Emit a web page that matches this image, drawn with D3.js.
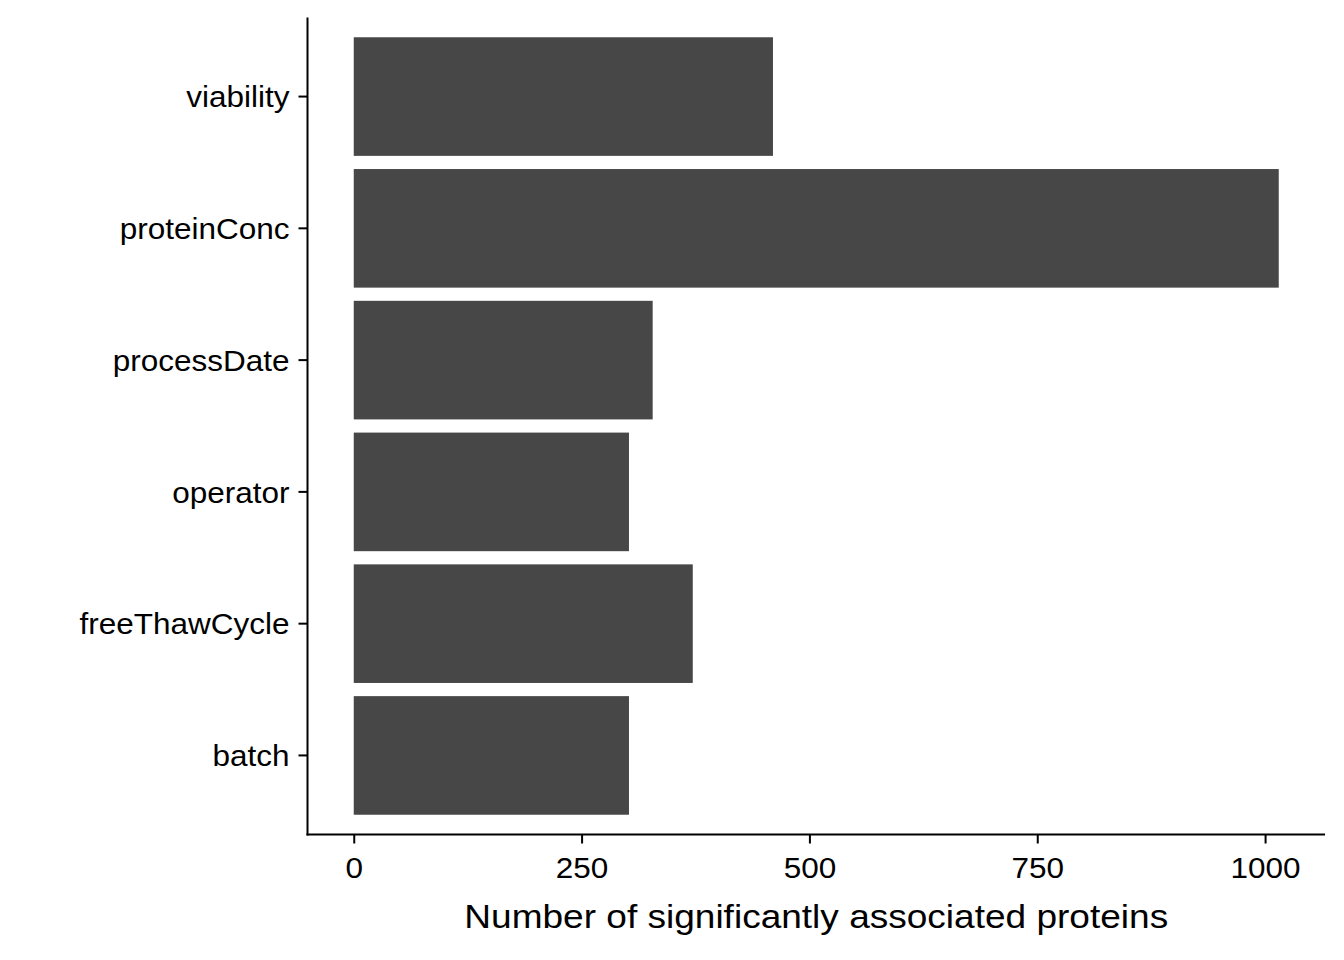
<!DOCTYPE html>
<html><head><meta charset="utf-8">
<script src="https://cdn.jsdelivr.net/npm/d3@7"></script>
<style>body{margin:0;background:#fff}</style>
</head><body>
<svg id="c" width="1344" height="960"></svg>
<script>
const categories = ["viability","proteinConc","processDate","operator","freeThawCycle","batch"];
const counts = [460, 1015, 328, 302, 372, 302];
const xTicks = [0, 250, 500, 750, 1000];
const xTitle = "Number of significantly associated proteins";

const svg = d3.select("#c");
const m = {left:307.5, right:1325, top:17.5, bottom:834.5};
const x = d3.scaleLinear().domain([-50.75, 1065.75]).range([m.left, m.right]);
const y = d3.scaleBand().domain(categories).range([m.top, m.bottom]).paddingInner(0.1).paddingOuter(0.15);

svg.append("g").selectAll("rect").data(categories).join("rect")
  .attr("x", x(0)).attr("y", d => y(d))
  .attr("width", (d,i) => x(counts[i]) - x(0))
  .attr("height", y.bandwidth())
  .attr("fill", "#474747");

const font = "'Liberation Sans', Arial, Helvetica, sans-serif";
const gx = svg.append("g").attr("transform", `translate(0,${m.bottom})`)
  .call(d3.axisBottom(x).tickValues(xTicks).tickFormat(d3.format("d")).tickSize(9).tickPadding(13).tickSizeOuter(0));
const gy = svg.append("g").attr("transform", `translate(${m.left},0)`)
  .call(d3.axisLeft(y).tickSize(9).tickPadding(9).tickSizeOuter(0));
[gx, gy].forEach(g => {
  g.select(".domain").attr("stroke", "#000").attr("stroke-width", 2);
  g.selectAll(".tick line").attr("stroke", "#000").attr("stroke-width", 2);
  g.selectAll(".tick text").attr("fill", "#000").style("font-family", font).style("font-size", "30px");
});
const sxT = 1.05;
gx.selectAll(".tick text").attr("transform", `scale(${sxT},1)`);
gy.selectAll(".tick text").attr("x", -18 / sxT).attr("dy", "0.36em").attr("transform", `scale(${sxT},1)`);
gx.select(".domain").attr("d", `M${m.left - 1},0H${m.right}`);
gy.select(".domain").attr("d", `M0,${m.top}V${m.bottom + 1}`);

svg.append("text").attr("transform", `translate(${(m.left + m.right)/2},928) scale(1.14,1)`)
  .attr("text-anchor", "middle").style("font-family", font).style("font-size", "32.5px")
  .attr("fill", "#000").text(xTitle);
</script>
</body></html>
